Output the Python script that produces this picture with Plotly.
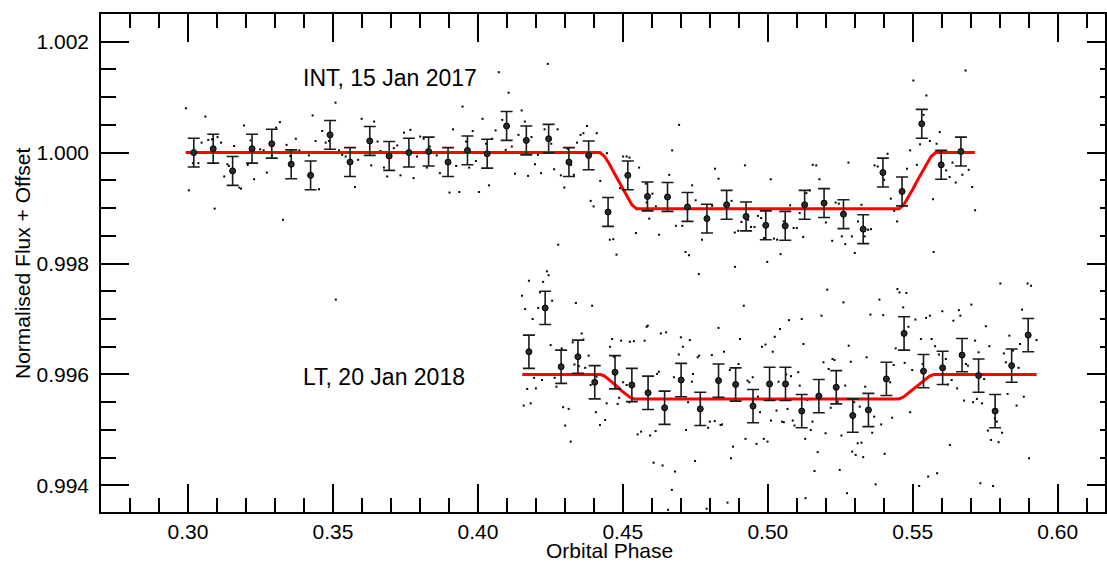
import plotly.graph_objects as go

# ---------------- data ----------------
# Binned INT light curve (15 Jan 2017)
int_bin_phase = [0.3020, 0.3087, 0.3154, 0.3221, 0.3289, 0.3356, 0.3423, 0.3490, 0.3559, 0.3627,
                 0.3694, 0.3762, 0.3830, 0.3897, 0.3964, 0.4032, 0.4099, 0.4167, 0.4244, 0.4314,
                 0.4382, 0.4449, 0.4517, 0.4585, 0.4654, 0.4723, 0.4790, 0.4858, 0.4925, 0.4993,
                 0.5060, 0.5127, 0.5194, 0.5261, 0.5329, 0.5397, 0.5463, 0.5531, 0.5598, 0.5666]
int_bin_flux = [1.00000, 1.00007, 0.99967, 1.00007, 1.00016, 0.99979, 0.99959, 1.00032, 0.99983, 1.00021,
                0.99994, 1.00000, 1.00002, 0.99983, 1.00004, 0.99998, 1.00048, 1.00022, 1.00025, 0.99983,
                0.99995, 0.99893, 0.99959, 0.99921, 0.99920, 0.99902, 0.99881, 0.99906, 0.99885, 0.99869,
                0.99868, 0.99906, 0.99909, 0.99889, 0.99862, 0.99964, 0.99930, 1.00052, 0.99978, 1.00002]
int_bin_err = [0.00026] * 40

# Binned LT light curve (20 Jan 2018)
lt_bin_phase = [0.4176, 0.4232, 0.4287, 0.4345, 0.4403, 0.4473, 0.4531, 0.4587, 0.4644, 0.4701,
                0.4767, 0.4830, 0.4889, 0.4949, 0.5006, 0.5061, 0.5117, 0.5176, 0.5236, 0.5293,
                0.5347, 0.5409, 0.5470, 0.5537, 0.5603, 0.5670, 0.5727, 0.5784, 0.5841, 0.5898]
lt_bin_flux = [0.99641, 0.99720, 0.99614, 0.99632, 0.99586, 0.99604, 0.99581, 0.99567, 0.99540, 0.99590,
               0.99538, 0.99589, 0.99582, 0.99543, 0.99583, 0.99583, 0.99534, 0.99561, 0.99577, 0.99526,
               0.99536, 0.99592, 0.99674, 0.99606, 0.99612, 0.99635, 0.99598, 0.99534, 0.99616, 0.99671]
lt_bin_err = [0.00030] * 30

# Unbinned INT points
int_raw_phase = [
    0.2993, 0.3003, 0.3017, 0.3036, 0.3047, 0.3060, 0.3070, 0.3083, 0.3092, 0.3102,
    0.3114, 0.3125, 0.3136, 0.3141, 0.3159, 0.3177, 0.3183, 0.3193, 0.3206, 0.3216,
    0.3228, 0.3249, 0.3261, 0.3272, 0.3290, 0.3304, 0.3317, 0.3328, 0.3340, 0.3353,
    0.3372, 0.3384, 0.3417, 0.3430, 0.3440, 0.3452, 0.3463, 0.3475, 0.3486, 0.3509,
    0.3521, 0.3532, 0.3544, 0.3576, 0.3587, 0.3599, 0.3632, 0.3642, 0.3654, 0.3664,
    0.3676, 0.3687, 0.3710, 0.3722, 0.3733, 0.3745, 0.3767, 0.3778, 0.3790, 0.3801,
    0.3813, 0.3824, 0.3834, 0.3847, 0.3858, 0.3869, 0.3902, 0.3914, 0.3925, 0.3936,
    0.3947, 0.3959, 0.3970, 0.3982, 0.3993, 0.4004, 0.4016, 0.4028, 0.4038, 0.4049,
    0.4061, 0.4072, 0.4084, 0.4096, 0.4106, 0.4117, 0.4128, 0.4140, 0.4151, 0.4162,
    0.4173, 0.4185, 0.4197, 0.4207, 0.4218, 0.4230, 0.4241, 0.4253, 0.4263, 0.4275,
    0.4277, 0.4286, 0.4298, 0.4309, 0.4321, 0.4331, 0.4342, 0.4354, 0.4364, 0.4376,
    0.4389, 0.4399, 0.4410, 0.4422, 0.4445, 0.4455, 0.4467, 0.4478, 0.4490, 0.4501,
    0.4513, 0.4523, 0.4545, 0.4556, 0.4579, 0.4591, 0.4582, 0.4602, 0.4614, 0.4625,
    0.4660, 0.4670, 0.4683, 0.4694, 0.4705, 0.4716, 0.4728, 0.4739, 0.4751, 0.4773,
    0.4808, 0.4818, 0.4830, 0.4875, 0.4886, 0.4898, 0.4909, 0.4921, 0.4932, 0.4942,
    0.4954, 0.4966, 0.4977, 0.4987, 0.4999, 0.5010, 0.5021, 0.5032, 0.5044, 0.5055,
    0.5077, 0.5089, 0.5100, 0.5110, 0.5122, 0.5133, 0.5145, 0.5155, 0.5167, 0.5178,
    0.5190, 0.5200, 0.5222, 0.5234, 0.5245, 0.5255, 0.5267, 0.5278, 0.5290, 0.5300,
    0.5311, 0.5323, 0.5334, 0.5346, 0.5356, 0.5368, 0.5379, 0.5401, 0.5413, 0.5424,
    0.5436, 0.5446, 0.5480, 0.5491, 0.5502, 0.5514, 0.5525, 0.5537, 0.5547, 0.5559,
    0.5570, 0.5572, 0.5582, 0.5593, 0.5615, 0.5627, 0.5637, 0.5648, 0.5671, 0.5682,
    0.5693, 0.5705, 0.5715, 0.3510]
int_raw_flux = [
    1.00080, 0.99932, 0.99981, 0.99981, 1.00018, 1.00065, 1.00023, 1.00024, 0.99899, 1.00028,
    1.00018, 0.99957, 0.99979, 0.99976, 1.00012, 0.99937, 0.99935, 1.00049, 0.99978, 1.00022,
    0.99952, 1.00006, 1.00004, 0.99964, 0.99995, 1.00045, 1.00055, 0.99879, 1.00014, 0.99994,
    1.00025, 1.00004, 0.99995, 1.00067, 1.00021, 0.99934, 1.00039, 1.00018, 1.00021, 1.00090,
    1.00004, 0.99996, 0.99993, 0.99938, 0.99987, 1.00061, 0.99977, 1.00056, 1.00020, 1.00003,
    0.99973, 0.99957, 1.00008, 1.00013, 0.99959, 1.00036, 1.00041, 0.99954, 0.99993, 1.00029,
    1.00025, 0.99973, 1.00011, 0.99999, 0.99995, 0.99963, 0.99928, 1.00042, 0.99976, 0.99929,
    1.00083, 1.00020, 0.99973, 1.00039, 0.99985, 0.99929, 1.00061, 1.00016, 0.99941, 1.00025,
    1.00040, 1.00145, 1.00059, 1.00005, 1.00108, 1.00011, 0.99962, 1.00032, 1.00076, 1.00056,
    0.99958, 1.00028, 0.99979, 0.99996, 0.99963, 1.00042, 1.00160, 1.00016, 0.99970, 1.00042,
    0.99834, 0.99959, 0.99937, 1.00007, 0.99978, 0.99960, 1.00018, 1.00032, 1.00035, 1.00048,
    0.99913, 0.99903, 1.00035, 0.99949, 0.99999, 0.99843, 0.99844, 0.99816, 0.99936, 0.99993,
    0.99993, 0.99991, 0.99855, 0.99973, 0.99944, 0.99881, 0.99910, 0.99926, 0.99903, 0.99852,
    0.99960, 1.00004, 0.99868, 1.00050, 0.99868, 0.99821, 0.99815, 0.99941, 0.99914, 0.99843,
    0.99904, 0.99971, 0.99953, 0.99913, 0.99856, 0.99859, 0.99875, 0.99977, 0.99879, 0.99866,
    0.99866, 0.99886, 0.99882, 0.99846, 0.99898, 0.99952, 0.99845, 0.99843, 0.99817, 0.99876,
    0.99905, 0.99864, 0.99864, 0.99891, 0.99848, 0.99927, 0.99932, 0.99978, 0.99977, 0.99952,
    0.99912, 0.99874, 0.99841, 0.99910, 0.99908, 0.99849, 0.99835, 0.99982, 0.99849, 0.99819,
    0.99876, 0.99906, 0.99849, 0.99861, 0.99862, 0.99977, 0.99975, 0.99951, 0.99998, 0.99917,
    0.99895, 0.99876, 0.99971, 1.00004, 1.00130, 0.99978, 1.00015, 1.00068, 1.00103, 1.00021,
    0.99916, 0.99821, 1.00016, 1.00037, 0.99968, 0.99956, 0.99982, 0.99946, 0.99960, 1.00148,
    0.99969, 0.99938, 0.99896, 0.99735]

# Unbinned LT points
lt_raw_phase = [
    0.4762, 0.4887, 0.4176, 0.4225, 0.4238, 0.4244, 0.4152, 0.4163, 0.4189, 0.4208,
    0.4214, 0.4256, 0.4338, 0.4394, 0.4251, 0.4194, 0.4221, 0.4170, 0.4200, 0.4158,
    0.4182, 0.4271, 0.4265, 0.4289, 0.4294, 0.4313, 0.4301, 0.4320, 0.4327, 0.4333,
    0.4358, 0.4364, 0.4348, 0.4370, 0.4382, 0.4389, 0.4409, 0.4407, 0.4421, 0.4439,
    0.4444, 0.4456, 0.4463, 0.4469, 0.4482, 0.4487, 0.4494, 0.4501, 0.4513, 0.4524,
    0.4538, 0.4522, 0.4551, 0.4563, 0.4575, 0.4582, 0.4586, 0.4594, 0.4613, 0.4606,
    0.4624, 0.4618, 0.4631, 0.4649, 0.4637, 0.4656, 0.4669, 0.4680, 0.4676, 0.4693,
    0.4700, 0.4707, 0.4718, 0.4725, 0.4731, 0.4738, 0.4742, 0.4749, 0.4758, 0.4763,
    0.4789, 0.4794, 0.4800, 0.4807, 0.4817, 0.4830, 0.4837, 0.4842, 0.4849, 0.4861,
    0.4869, 0.4873, 0.4880, 0.4899, 0.4904, 0.4917, 0.4923, 0.4930, 0.4936, 0.4948,
    0.4961, 0.4998,
    0.4948, 0.4966, 0.4973, 0.4980, 0.4992, 0.4986, 0.4999, 0.5011,
    0.5017, 0.5024, 0.5030, 0.5037, 0.5042, 0.5049, 0.5055, 0.5063, 0.5068, 0.5073,
    0.5080, 0.5086, 0.5092, 0.5105, 0.5110, 0.5117, 0.5123, 0.5129, 0.5136, 0.5148,
    0.5154, 0.5161, 0.5172, 0.5185, 0.5192, 0.5199, 0.5205, 0.5210, 0.5217, 0.5223,
    0.5230, 0.5241, 0.5248, 0.5254, 0.5261, 0.5267, 0.5273, 0.5279, 0.5286, 0.5291,
    0.5298, 0.5303, 0.5310, 0.5317, 0.5323, 0.5329, 0.5336, 0.5341, 0.5354, 0.5360,
    0.5367, 0.5372, 0.5385, 0.5391, 0.5398, 0.5403, 0.5422, 0.5429, 0.5434, 0.5441,
    0.5447, 0.5454, 0.5467, 0.5472, 0.5478, 0.5485, 0.5491, 0.5498, 0.5509, 0.5522,
    0.5528, 0.5534, 0.5546, 0.5553, 0.5559, 0.5565, 0.5577, 0.5584, 0.5590, 0.5602,
    0.5614, 0.5621, 0.5628, 0.5634, 0.5640, 0.5653, 0.5659, 0.5664, 0.5677, 0.5683,
    0.5690, 0.5702, 0.5708, 0.5715, 0.5721, 0.5727, 0.5733, 0.5739, 0.5746, 0.5752,
    0.5759, 0.5764, 0.5770, 0.5777, 0.5783, 0.5790, 0.5796, 0.5802, 0.5808, 0.5814,
    0.5821, 0.5827, 0.5833, 0.5846, 0.5858, 0.5865, 0.5870, 0.5877, 0.5883, 0.5896,
    0.5901, 0.5908, 0.5927, 0.5130]
lt_raw_flux = [
    0.99781, 0.99794, 0.99769, 0.99767, 0.99786, 0.99779, 0.99742, 0.99718, 0.99700, 0.99720,
    0.99748, 0.99733, 0.99729, 0.99724, 0.99653, 0.99594, 0.99590, 0.99574, 0.99575, 0.99544,
    0.99548, 0.99578, 0.99594, 0.99647, 0.99541, 0.99538, 0.99508, 0.99479, 0.99658, 0.99618,
    0.99674, 0.99663, 0.99615, 0.99612, 0.99634, 0.99581, 0.99596, 0.99532, 0.99509, 0.99518,
    0.99548, 0.99650, 0.99664, 0.99632, 0.99547, 0.99558, 0.99661, 0.99586, 0.99581, 0.99659,
    0.99660, 0.99550, 0.99492, 0.99497, 0.99661, 0.99686, 0.99688, 0.99490, 0.99498, 0.99441,
    0.99605, 0.99601, 0.99674, 0.99676, 0.99436, 0.99356, 0.99392, 0.99425, 0.99595, 0.99636,
    0.99667, 0.99650, 0.99500, 0.99550, 0.99662, 0.99587, 0.99601, 0.99444, 0.99631, 0.99634,
    0.99358, 0.99504, 0.99515, 0.99635, 0.99516, 0.99684, 0.99509, 0.99510, 0.99641, 0.99369,
    0.99608, 0.99449, 0.99470, 0.99619, 0.99664, 0.99724, 0.99484, 0.99589, 0.99586, 0.99595,
    0.99475, 0.99803,
    0.99551, 0.99560, 0.99532, 0.99650, 0.99654, 0.99484, 0.99479, 0.99517,
    0.99641, 0.99668, 0.99535, 0.99587, 0.99682, 0.99515, 0.99514, 0.99600, 0.99538, 0.99698,
    0.99597, 0.99517, 0.99508, 0.99604, 0.99580, 0.99700, 0.99655, 0.99484, 0.99554, 0.99500,
    0.99515, 0.99426, 0.99460, 0.99706, 0.99622, 0.99494, 0.99753, 0.99610, 0.99540, 0.99628,
    0.99626, 0.99551, 0.99428, 0.99490, 0.99730, 0.99580, 0.99386, 0.99652, 0.99623, 0.99461,
    0.99550, 0.99455, 0.99476, 0.99542, 0.99477, 0.99451, 0.99578, 0.99631, 0.99708, 0.99495,
    0.99524, 0.99402, 0.99735, 0.99510, 0.99707, 0.99457, 0.99586, 0.99522, 0.99617, 0.99647,
    0.99754, 0.99748, 0.99721, 0.99621, 0.99747, 0.99686, 0.99532, 0.99608, 0.99699, 0.99399,
    0.99664, 0.99619, 0.99702, 0.99416, 0.99706, 0.99664, 0.99651, 0.99422, 0.99636, 0.99714,
    0.99628, 0.99582, 0.99473, 0.99590, 0.99697, 0.99575, 0.99716, 0.99706, 0.99553, 0.99619,
    0.99616, 0.99726, 0.99550, 0.99661, 0.99556, 0.99640, 0.99404, 0.99548, 0.99592, 0.99687,
    0.99499, 0.99651, 0.99482, 0.99399, 0.99521, 0.99515, 0.99478, 0.99764, 0.99495, 0.99638,
    0.99622, 0.99565, 0.99670, 0.99643, 0.99544, 0.99612, 0.99655, 0.99717, 0.99560, 0.99764,
    0.99449, 0.99760, 0.99662, 0.99377]

# Eclipse model curves (vertices)
int_model_phase = [0.2992, 0.4421, 0.4437, 0.4453, 0.4468, 0.4484, 0.4500, 0.4516, 0.4531, 0.4547,
                   0.5453, 0.5469, 0.5484, 0.5500, 0.5516, 0.5532, 0.5547, 0.5563, 0.5579, 0.5714]
int_model_flux = [1.00000, 1.00000, 0.99993, 0.99980, 0.99965, 0.99950, 0.99934, 0.99919, 0.99906, 0.99899,
                  0.99899, 0.99906, 0.99919, 0.99934, 0.99950, 0.99965, 0.99980, 0.99993, 1.00000, 1.00000]
lt_model_phase = [0.4153, 0.4423, 0.4437, 0.4452, 0.4466, 0.4481, 0.4495, 0.4509, 0.4524, 0.4538,
                  0.5452, 0.5467, 0.5482, 0.5497, 0.5513, 0.5528, 0.5543, 0.5558, 0.5573, 0.5927]
lt_model_flux = [0.99600, 0.99600, 0.99597, 0.99591, 0.99585, 0.99578, 0.99571, 0.99565, 0.99559, 0.99556,
                 0.99556, 0.99559, 0.99565, 0.99571, 0.99578, 0.99585, 0.99591, 0.99597, 0.99600, 0.99600]

labels = ["INT, 15 Jan 2017", "LT, 20 Jan 2018"]
label_pos = [(0.3390, 1.00134), (0.3390, 0.99596)]
x_title = "Orbital Phase"
y_title = "Normalised Flux + Offset"

x_range = [0.27, 0.6163]
y_range = [0.993521, 1.002499]

assert len(int_raw_phase) == len(int_raw_flux)
assert len(lt_raw_phase) == len(lt_raw_flux)

FONT = "Liberation Sans, Arial, Helvetica, sans-serif"

fig = go.Figure()

for px, py in [(int_raw_phase, int_raw_flux), (lt_raw_phase, lt_raw_flux)]:
    fig.add_trace(go.Scatter(x=px, y=py, mode="markers",
                             marker=dict(symbol="square", size=2, color="black", line=dict(width=0)),
                             hoverinfo="skip", showlegend=False))

for mx, my in [(int_model_phase, int_model_flux), (lt_model_phase, lt_model_flux)]:
    fig.add_trace(go.Scatter(x=mx, y=my, mode="lines",
                             line=dict(color="#ff0000", width=3), showlegend=False))

for bx, by, be in [(int_bin_phase, int_bin_flux, int_bin_err), (lt_bin_phase, lt_bin_flux, lt_bin_err)]:
    fig.add_trace(go.Scatter(x=bx, y=by, mode="markers",
                             error_y=dict(type="data", array=be, visible=True,
                                          color="#1a1a1a", thickness=1.6, width=6),
                             marker=dict(size=6, color="#2a2a2a", line=dict(color="black", width=1)),
                             showlegend=False))

# dummy trace to activate the right-hand axis
fig.add_trace(go.Scatter(x=[None], y=[None], yaxis="y2", showlegend=False, hoverinfo="skip"))

for txt, (lx, ly) in zip(labels, label_pos):
    fig.add_annotation(x=lx, y=ly, text=txt, showarrow=False, xanchor="left", yanchor="middle",
                       font=dict(family=FONT, size=23, color="black"))

# axis titles
fig.add_annotation(xref="paper", yref="paper", x=0.506, y=-0.078, text=x_title, showarrow=False,
                   xanchor="center", yanchor="middle", font=dict(family=FONT, size=21, color="black"))
fig.add_annotation(xref="paper", yref="paper", x=-0.0787, y=0.5, text=y_title, showarrow=False,
                   textangle=-90, xanchor="center", yanchor="middle",
                   font=dict(family=FONT, size=21, color="black"))

tickcommon = dict(ticks="inside", tickcolor="black", tickwidth=1.5, showgrid=False, zeroline=False,
                  showline=True, linecolor="black", linewidth=1.5, automargin=False)

fig.update_layout(
    width=1107, height=563,
    margin=dict(l=101, r=2, t=14, b=51),
    paper_bgcolor="white", plot_bgcolor="white",
    font=dict(family=FONT, size=21, color="black"),
    xaxis=dict(range=x_range, mirror="ticks", ticklen=28, dtick=0.05, tick0=0.30, tickformat=".2f",
               minor=dict(dtick=0.01, tick0=0.30, ticklen=14, ticks="inside", tickcolor="black", tickwidth=1.5),
               tickfont=dict(family=FONT, size=21), ticklabelstandoff=0,
               **tickcommon),
    yaxis=dict(range=y_range, mirror=False, ticklen=28, dtick=0.002, tick0=0.994, tickformat=".3f",
               minor=dict(dtick=0.0005, tick0=0.994, ticklen=15, ticks="inside", tickcolor="black", tickwidth=1.5),
               tickfont=dict(family=FONT, size=21), ticklabelstandoff=6,
               **tickcommon),
    yaxis2=dict(range=y_range, overlaying="y", side="right", ticklen=18, dtick=0.002, tick0=0.994,
                minor=dict(dtick=0.0005, tick0=0.994, ticklen=5, ticks="inside", tickcolor="black", tickwidth=1.5),
                showticklabels=False, **tickcommon),
)

# remove the default page margin so the figure sits at the window's top-left corner
fig.write_html("out.html", config={"displayModeBar": False},
               post_script="document.body.style.margin='0';")
